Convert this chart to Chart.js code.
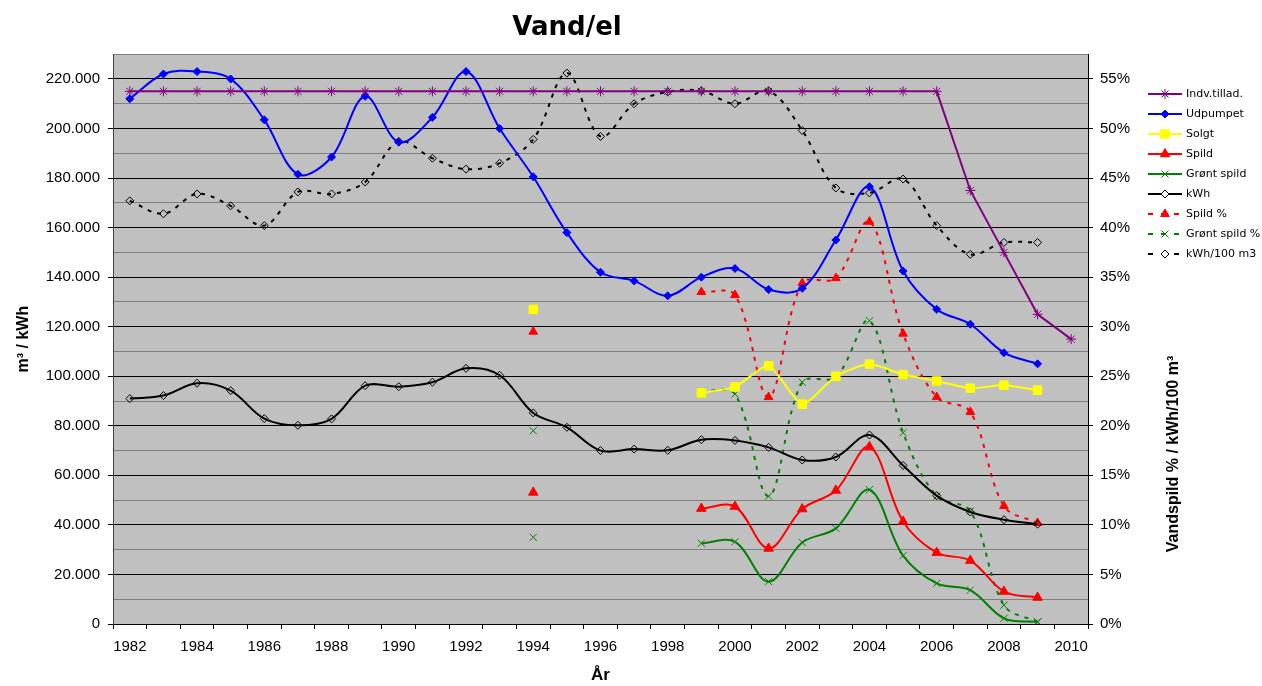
<!DOCTYPE html>
<html>
<head>
<meta charset="utf-8">
<title>Vand/el</title>
<script src="https://cdn.jsdelivr.net/npm/chart.js@4/dist/chart.umd.min.js"></script>
<style>
  html, body { margin: 0; padding: 0; background: #ffffff; }
  #wrap { width: 1262px; height: 686px; }
</style>
</head>
<body>
<div id="wrap"><canvas id="vandChart" width="1262" height="686"></canvas></div>
<script>
// År (x-akse)
const years = [1982, 1983, 1984, 1985, 1986, 1987, 1988, 1989, 1990, 1991, 1992, 1993, 1994, 1995,
  1996, 1997, 1998, 1999, 2000, 2001, 2002, 2003, 2004, 2005, 2006, 2007, 2008, 2009, 2010];

// m3 / kWh (venstre akse)
const indvTillad = [215000, 215000, 215000, 215000, 215000, 215000, 215000, 215000, 215000, 215000,
  215000, 215000, 215000, 215000, 215000, 215000, 215000, 215000, 215000, 215000, 215000, 215000,
  215000, 215000, 215000, 175000, 150000, 125000, 115000];
const udpumpet = [212000, 222000, 223000, 220000, 203500, 181500, 188500, 213000, 194500, 204500,
  223000, 200000, 180500, 158000, 142000, 138500, 132500, 140000, 143500, 135000, 135500, 155000,
  176500, 142500, 127000, 121000, 109500, 105000, null];
const solgt = [null, null, null, null, null, null, null, null, null, null, null, null, 127000,
  null, null, null, null, 93300, 95700, 104200, 88700, 100000, 104900, 100700, 98100, 95200, 96400, 94400, null];
const spild = [null, null, null, null, null, null, null, null, null, null, null, null, 53100,
  null, null, null, null, 46600, 47400, 30500, 46400, 53900, 71500, 41400, 28800, 25600, 13100, 10700, null];
const groentSpild = [null, null, null, null, null, null, null, null, null, null, null, null, 35000,
  null, null, null, null, 32600, 33200, 17100, 32900, 38600, 54200, 27600, 16400, 13700, 2300, 900, null];
const kwh = [91000, 92200, 97200, 94200, 82900, 80200, 82800, 96200, 95800, 97600, 103200, 100400,
  85200, 79400, 70000, 70600, 70100, 74400, 74100, 71300, 66200, 67400, 76300, 64000, 51800, 45200,
  42100, 40300, null];

// Vandspild % / kWh/100 m3 (højre akse)
const spildPct = [null, null, null, null, null, null, null, null, null, null, null, null, 29.5,
  null, null, null, null, 33.5, 33.2, 22.9, 34.4, 34.9, 40.6, 29.3, 22.9, 21.4, 11.9, 10.2, null];
const groentSpildPct = [null, null, null, null, null, null, null, null, null, null, null, null, 19.5,
  null, null, null, null, 23.5, 23.2, 12.9, 24.4, 24.9, 30.6, 19.3, 12.9, 11.4, 1.9, 0.2, null];
const kwhPct = [42.7, 41.4, 43.4, 42.2, 40.2, 43.6, 43.4, 44.6, 48.7, 47.0, 45.9, 46.5, 48.9, 55.6,
  49.2, 52.5, 53.7, 53.8, 52.5, 53.8, 49.8, 44.0, 43.5, 44.9, 40.2, 37.3, 38.5, 38.5, null];

Chart.defaults.font.family = '"Liberation Sans", Arial, sans-serif';
Chart.defaults.color = '#000000';

function dkNumber(v) {
  return String(v).replace(/\B(?=(\d{3})+(?!\d))/g, '.');
}

function serie(label, data, color, style, radius, opts) {
  return Object.assign({
    label: label,
    data: data,
    borderColor: color,
    backgroundColor: color,
    borderWidth: 2,
    pointStyle: style,
    pointRadius: radius,
    pointHoverRadius: radius,
    pointBackgroundColor: color,
    pointBorderColor: color,
    pointBorderWidth: 1,
    tension: 0.35,
    fill: false,
    spanGaps: false,
    yAxisID: 'y'
  }, opts || {});
}

// baggrund i plotområdet
const plotBackground = {
  id: 'plotBackground',
  beforeDraw(chart) {
    const a = chart.chartArea;
    const ctx = chart.ctx;
    ctx.save();
    ctx.fillStyle = '#c0c0c0';
    ctx.fillRect(a.left, a.top, a.right - a.left, a.bottom - a.top);
    ctx.restore();
  }
};

// Excel-lignende signaturforklaring + højre aksetitel
const excelLegend = {
  id: 'excelLegend',
  afterDraw(chart) {
    const ctx = chart.ctx;
    chart.data.datasets.forEach((ds, i) => {
      const y = 94 + i * 20;
      ctx.save();
      ctx.strokeStyle = ds.borderColor;
      ctx.lineWidth = 2;
      ctx.setLineDash(ds.borderDash ? [5, 8] : []);
      ctx.beginPath();
      ctx.moveTo(1148, y);
      ctx.lineTo(1182, y);
      ctx.stroke();
      ctx.setLineDash([]);
      ctx.fillStyle = ds.pointBackgroundColor === 'transparent' ? '#ffffff' : ds.pointBackgroundColor;
      ctx.strokeStyle = ds.pointBorderColor;
      ctx.lineWidth = ds.pointBorderWidth;
      Chart.helpers.drawPoint(ctx, {
        pointStyle: ds.pointStyle, radius: ds.pointRadius, rotation: 0, borderWidth: ds.pointBorderWidth
      }, 1165, y);
      ctx.fillStyle = '#000000';
      ctx.font = '11px "DejaVu Sans", Verdana, sans-serif';
      ctx.textBaseline = 'middle';
      ctx.textAlign = 'left';
      ctx.fillText(ds.label, 1186, y);
      ctx.restore();
    });

    ctx.save();
    ctx.translate(1174, 454);
    ctx.rotate(-Math.PI / 2);
    ctx.fillStyle = '#000000';
    ctx.font = 'bold 16px "Liberation Sans", Arial, sans-serif';
    ctx.textAlign = 'center';
    ctx.textBaseline = 'middle';
    ctx.fillText('Vandspild % / kWh/100 m³', 0, 0);
    ctx.restore();
  }
};

const vandConfig = {
  type: 'line',
  data: {
    labels: years,
    datasets: [
      serie('Indv.tillad.', indvTillad, '#800080', 'star', 5, { tension: 0 }),
      serie('Udpumpet', udpumpet, '#0000ff', 'rectRot', 4),
      serie('Solgt', solgt, '#ffff00', 'rect', 6, { tension: 0.2 }),
      serie('Spild', spild, '#ff0000', 'triangle', 5.5),
      serie('Grønt spild', groentSpild, '#008000', 'crossRot', 5),
      serie('kWh', kwh, '#000000', 'rectRot', 4, { pointBackgroundColor: 'transparent' }),
      serie('Spild %', spildPct, '#ff0000', 'triangle', 5, { borderDash: [4, 6], yAxisID: 'y1' }),
      serie('Grønt spild %', groentSpildPct, '#008000', 'crossRot', 5, { borderDash: [4, 6], yAxisID: 'y1' }),
      serie('kWh/100 m3', kwhPct, '#000000', 'rectRot', 4, { borderDash: [4, 6], yAxisID: 'y1', pointBackgroundColor: 'transparent' })
    ]
  },
  options: {
    responsive: false,
    animation: false,
    layout: { padding: { left: 0, top: 0, right: 128, bottom: 0 } },
    plugins: {
      legend: { display: false },
      tooltip: { enabled: false },
      title: {
        display: true,
        text: 'Vand/el',
        color: '#000000',
        font: { family: '"DejaVu Sans", Verdana, sans-serif', size: 26, weight: 'bold' },
        padding: { top: 13, bottom: 10 }
      }
    },
    scales: {
      x: {
        offset: true,
        grid: {
          offset: true,
          drawOnChartArea: false,
          color: '#000000',
          tickLength: 5
        },
        border: { color: '#000000' },
        ticks: {
          autoSkip: false,
          maxRotation: 0,
          padding: 9,
          font: { size: 15 },
          callback: function (value) {
            const yr = this.getLabelForValue(value);
            return yr % 2 === 0 ? String(yr) : '';
          }
        },
        title: {
          display: true,
          text: 'År',
          font: { size: 17, weight: 'bold' },
          padding: { top: 0, bottom: 0 }
        },
        afterFit(scale) { scale.height = 62; }
      },
      y: {
        position: 'left',
        min: 0,
        max: 230000,
        grid: {
          color: (c) => (c.tick && c.tick.value % 20000 === 0 ? '#000000' : '#808080'),
          tickColor: (c) => (c.tick && c.tick.value % 20000 === 0 ? '#000000' : 'rgba(0,0,0,0)'),
          tickLength: 5
        },
        border: { color: '#404040' },
        ticks: {
          stepSize: 10000,
          padding: 8,
          font: { size: 15 },
          callback: (v) => (v % 20000 === 0 ? dkNumber(v) : '')
        },
        title: {
          display: true,
          text: 'm³ / kWh',
          font: { size: 16, weight: 'bold' },
          padding: { top: 14, bottom: 0 }
        },
        afterFit(scale) { scale.width = 113; }
      },
      y1: {
        position: 'right',
        min: 0,
        max: 57.5,
        grid: {
          drawOnChartArea: false,
          tickColor: (c) => (c.tick && Math.round(c.tick.value * 10) % 50 === 0 ? '#000000' : 'rgba(0,0,0,0)'),
          tickLength: 5
        },
        border: { color: '#000000' },
        ticks: {
          stepSize: 2.5,
          padding: 7,
          font: { size: 15 },
          callback: (v) => (Math.round(v * 10) % 50 === 0 ? Math.round(v) + '%' : '')
        },
        afterFit(scale) { scale.width = 46; }
      }
    }
  },
  plugins: [plotBackground, excelLegend]
};

const vandChart = new Chart(document.getElementById('vandChart'), vandConfig);
</script>
</body>
</html>
